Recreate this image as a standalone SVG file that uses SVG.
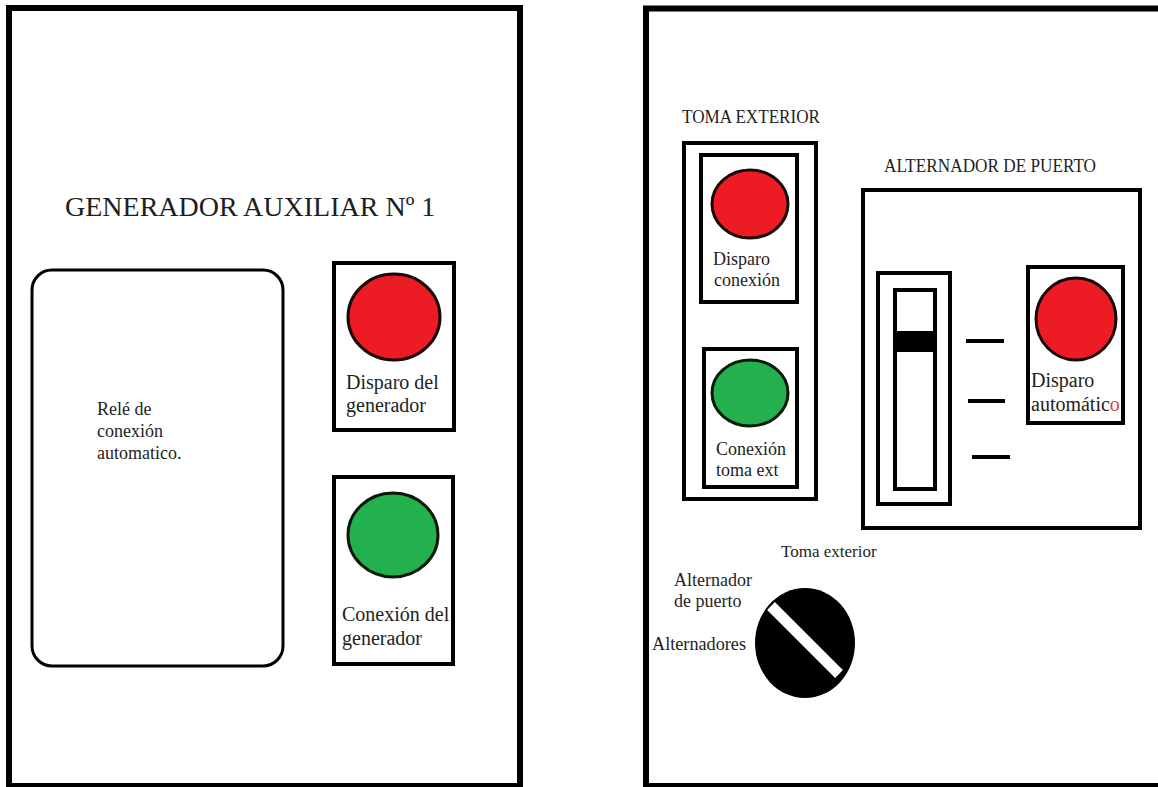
<svg xmlns="http://www.w3.org/2000/svg" width="1158" height="787" viewBox="0 0 1158 787" font-family="'Liberation Serif', 'Times New Roman', 'DejaVu Serif', serif">
<style>
text{font-family:"Liberation Serif","Times New Roman","DejaVu Serif",serif;fill:#1e1e1e}
.panel{fill:none;stroke:#000;stroke-width:6}
.box{fill:#fff;stroke:#000;stroke-width:4}
.red{fill:#ed1c24;stroke:#1a0808;stroke-width:3}
.green{fill:#22b14c;stroke:#0a1a0a;stroke-width:3}
.dash{stroke:#000;stroke-width:4}
</style>
<rect width="1158" height="787" fill="#fff"/>
<g id="panel-generador">
<rect class="panel" x="9" y="8" width="511" height="778"/>
<text x="65" y="216" font-size="28" font-family="Liberation Serif, serif">GENERADOR AUXILIAR Nº 1</text>
</g>
<g id="rele">
<rect x="32" y="270" width="251" height="396" rx="20" ry="20" fill="#fff" stroke="#000" stroke-width="3"/>
<text font-size="18" font-family="Liberation Serif, serif"><tspan x="97" y="415">Relé de</tspan><tspan x="97" y="437">conexión</tspan><tspan x="97" y="459">automatico.</tspan></text>
</g>
<g id="disparo-generador">
<rect class="box" x="334" y="263" width="120" height="167"/>
<ellipse class="red" cx="394" cy="317" rx="46" ry="43"/>
<text font-size="20" font-family="Liberation Serif, serif"><tspan x="346" y="389">Disparo del</tspan><tspan x="346" y="412">generador</tspan></text>
</g>
<g id="conexion-generador">
<rect class="box" x="334" y="477" width="119" height="187"/>
<ellipse class="green" cx="393" cy="535" rx="45" ry="42"/>
<text font-size="20" font-family="Liberation Serif, serif"><tspan x="342" y="621">Conexión del</tspan><tspan x="342" y="645">generador</tspan></text>
</g>
<g id="panel-alternador">
<path class="panel" d="M1158 8.5H646V786H1158"/>
</g>
<g id="toma-exterior">
<text x="682" y="123" font-size="18" font-family="Liberation Serif, serif" textLength="138" lengthAdjust="spacingAndGlyphs">TOMA EXTERIOR</text>
<rect class="box" x="684" y="143" width="132" height="356"/>
</g>
<g id="disparo-conexion">
<rect class="box" x="701" y="155" width="96" height="147"/>
<ellipse class="red" cx="750" cy="204" rx="38" ry="34"/>
<text font-size="18" font-family="Liberation Serif, serif"><tspan x="713" y="265">Disparo</tspan><tspan x="714" y="286">conexión</tspan></text>
</g>
<g id="conexion-toma">
<rect class="box" x="704" y="349" width="93" height="138"/>
<ellipse class="green" cx="750" cy="393" rx="38" ry="33"/>
<text font-size="18" font-family="Liberation Serif, serif"><tspan x="716" y="455">Conexión</tspan><tspan x="716" y="476">toma ext</tspan></text>
</g>
<g id="alternador-puerto">
<text x="884" y="172" font-size="18" font-family="Liberation Serif, serif" textLength="212" lengthAdjust="spacingAndGlyphs">ALTERNADOR DE PUERTO</text>
<rect class="box" x="863" y="190" width="277" height="338"/>
</g>
<g id="selector">
<rect class="box" x="878" y="273" width="72" height="231"/>
<rect class="box" x="895" y="290" width="40" height="199"/>
<rect x="895" y="331" width="40" height="21" fill="#000"/>
<line class="dash" x1="966" y1="341" x2="1004" y2="341"/>
<line class="dash" x1="968" y1="401" x2="1005" y2="401"/>
<line class="dash" x1="972" y1="457" x2="1010" y2="457"/>
</g>
<g id="disparo-automatico">
<rect class="box" x="1028" y="267" width="95" height="156"/>
<ellipse class="red" cx="1076" cy="319" rx="40" ry="41"/>
<text font-size="20" font-family="Liberation Serif, serif"><tspan x="1031" y="387">Disparo</tspan><tspan x="1031" y="411">automátic<tspan fill="#d0454a">o</tspan></tspan></text>
</g>
<g id="conmutador">
<ellipse cx="805" cy="643" rx="50" ry="55" fill="#000"/>
<line x1="771" y1="606" x2="839" y2="674" stroke="#fff" stroke-width="11"/>
<text x="781" y="557" font-size="17" font-family="Liberation Serif, serif">Toma exterior</text>
<text font-size="18" font-family="Liberation Serif, serif"><tspan x="674" y="586">Alternador</tspan><tspan x="674" y="607">de puerto</tspan></text>
<text x="652" y="650" font-size="18" font-family="Liberation Serif, serif" textLength="94" lengthAdjust="spacingAndGlyphs">Alternadores</text>
</g>
</svg>
